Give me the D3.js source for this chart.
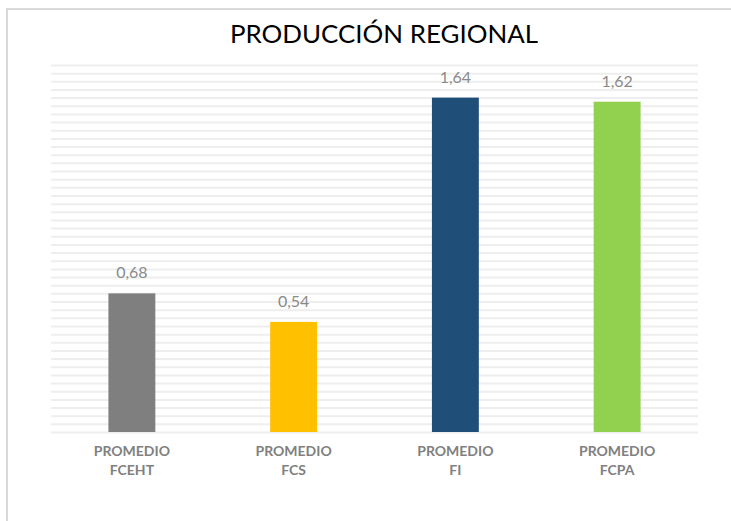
<!DOCTYPE html>
<html>
<head>
  <meta charset="UTF-8">
  <title>Producción regional</title>
  <script src="https://d3js.org/d3.v7.min.js"></script>
  <style>
    body { margin: 0; background: #fff; }
    svg { display: block; font-family: Lato, "Open Sans", sans-serif; }
  </style>
</head>
<body>
  <div id="chart"></div>
  <script>
    const categories = ["PROMEDIO FCEHT", "PROMEDIO FCS", "PROMEDIO FI", "PROMEDIO FCPA"];
    const values = [0.68, 0.54, 1.64, 1.62];
    const valueLabels = ["0,68", "0,54", "1,64", "1,62"];
    const colors = ["#7f7f7f", "#ffc000", "#1f4e79", "#92d050"];

    const width = 731, height = 521;
    const margin = { top: 65, right: 33, bottom: 89, left: 51 };

    const svg = d3.select("#chart").append("svg")
      .attr("width", width)
      .attr("height", height);

    // chart frame (runs past the right and bottom edge)
    svg.append("rect")
      .attr("x", 7).attr("y", 9)
      .attr("width", 800).attr("height", 600)
      .attr("fill", "none")
      .attr("stroke", "#d9d9d9")
      .attr("stroke-width", 2);

    svg.append("text")
      .attr("x", 384).attr("y", 43)
      .attr("text-anchor", "middle")
      .attr("font-size", 25)
      .attr("textLength", 308)
      .attr("lengthAdjust", "spacingAndGlyphs")
      .attr("fill", "#000")
      .text("PRODUCCIÓN REGIONAL");

    const x = d3.scaleBand()
      .domain(categories)
      .range([margin.left, width - margin.right])
      .paddingInner(0.71)
      .paddingOuter(0.355);

    const y = d3.scaleLinear()
      .domain([0, 1.8])
      .range([height - margin.bottom, margin.top]);

    // minor gridlines every 0.04
    const grid = svg.append("g")
      .attr("transform", `translate(${margin.left},0)`)
      .call(d3.axisLeft(y)
        .tickValues(d3.range(0, 1.8001, 0.04))
        .tickSize(-(width - margin.left - margin.right))
        .tickFormat(""));
    grid.select(".domain").remove();
    grid.selectAll(".tick line")
      .attr("stroke", "#eeeeee")
      .attr("stroke-width", 2);

    svg.selectAll(".bar")
      .data(values)
      .join("rect")
      .attr("class", "bar")
      .attr("x", (d, i) => x(categories[i]))
      .attr("y", d => y(d))
      .attr("width", x.bandwidth())
      .attr("height", d => y(0) - y(d))
      .attr("fill", (d, i) => colors[i]);

    svg.selectAll(".value")
      .data(values)
      .join("text")
      .attr("class", "value")
      .attr("x", (d, i) => x(categories[i]) + x.bandwidth() / 2)
      .attr("y", d => y(d) - 15)
      .attr("text-anchor", "middle")
      .attr("font-size", 16)
      .attr("fill", "#8a8a8a")
      .text((d, i) => valueLabels[i]);

    const cat = svg.selectAll(".cat")
      .data(categories)
      .join("text")
      .attr("class", "cat")
      .attr("x", d => x(d) + x.bandwidth() / 2)
      .attr("y", y(0) + 24)
      .attr("text-anchor", "middle")
      .attr("font-size", 14)
      .attr("font-weight", "bold")
      .attr("fill", "#808080");
    cat.selectAll("tspan")
      .data(d => d.split(" "))
      .join("tspan")
      .attr("x", function () { return d3.select(this.parentNode).attr("x"); })
      .attr("dy", (d, i) => i === 0 ? 0 : 19)
      .text(d => d);
  </script>
</body>
</html>
